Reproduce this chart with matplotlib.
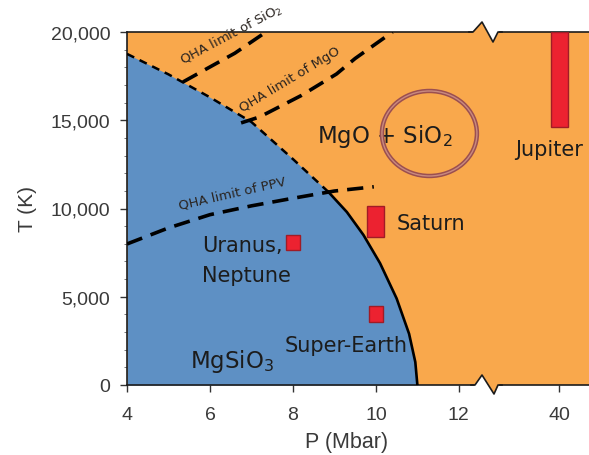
import matplotlib
matplotlib.use('Agg')
import matplotlib.pyplot as plt
from matplotlib.patches import Ellipse, Polygon
from matplotlib.lines import Line2D

plt.rcParams['font.family'] = ['DejaVu Sans']

orange = '#f9a84c'
blue = '#5e90c4'
red = '#ec2230'
ink = '#1c1c1c'

# MgSiO3 -> MgO + SiO2 boundary, P in Mbar, T in K
bound_p = [4.0, 5.0, 6.0, 7.0, 8.0, 8.85, 9.3, 9.7, 10.1, 10.5, 10.8, 10.95, 11.0]
bound_t = [18760, 17600, 16300, 14900, 12800, 10950, 9800, 8500, 6900, 4900, 2900, 1300, 0]
n_dash = 6  # boundary is dashed above the PPV limit

# QHA validity limits
ppv_p = [4.0, 5.0, 6.0, 7.0, 8.0, 9.0, 9.95]
ppv_t = [7990, 8900, 9650, 10150, 10580, 10990, 11230]
mgo_p = [6.75, 7.2, 8.2, 9.05, 9.5, 10.4]
mgo_t = [14850, 15190, 16400, 17620, 18500, 20000]
sio2_p = [5.35, 6.0, 6.6, 7.35]
sio2_t = [17170, 18020, 18800, 20000]

# planetary interiors
planet_p = [8.0, 10.0, 10.0, 40.0]
planet_w = [0.34, 0.34, 0.41, 0.41]
planet_tlo = [7650, 3570, 8400, 14620]
planet_thi = [8500, 4480, 10150, 20000]

xticks_left = [4, 6, 8, 10, 12]
xticks_right = [40]
yticks = [0, 5000, 10000, 15000, 20000]
ylabels = ['0', '5,000', '10,000', '15,000', '20,000']

W, H = 589, 456
fig = plt.figure(figsize=(W / 100, H / 100), dpi=100)
ax1 = fig.add_axes([127 / W, 70 / H, 358 / W, 353 / H])
ax2 = fig.add_axes([485 / W, 70 / H, 104 / W, 353 / H], sharey=ax1)

for ax in (ax1, ax2):
    ax.set_facecolor(orange)
    for s in ax.spines.values():
        s.set_color(ink)
        s.set_linewidth(1.2)
    ax.spines['right'].set_visible(False)
    ax.tick_params(direction='out', length=5, width=1, color='#333333',
                   labelsize=14, labelcolor='#3a3a3a', pad=10)

ax1.set_xlim(4, 12.63)
ax2.set_xlim(38.22, 40.72)
ax1.set_ylim(0, 20000)
ax1.set_xticks(xticks_left)
ax1.set_xticklabels([str(v) for v in xticks_left], fontfamily='Liberation Sans')
ax2.set_xticks(xticks_right)
ax2.set_xticklabels([str(v) for v in xticks_right], fontfamily='Liberation Sans')
ax1.set_yticks(yticks)
ax1.set_yticklabels(ylabels, fontfamily='Liberation Sans')
ax1.set_yticks(range(0, 20001, 1000), minor=True)
ax1.tick_params(axis='y', which='major', pad=7)
ax1.tick_params(axis='y', which='minor', direction='out', length=2.5, width=0.7, color='#777777')
ax1.tick_params(axis='x', which='minor', bottom=False)

ax2.spines['left'].set_visible(False)
ax2.tick_params(axis='y', which='both', left=False, labelleft=False)
ax2.tick_params(axis='x', which='minor', bottom=False)

# MgSiO3 stability field
ax1.fill_between(bound_p, bound_t, 0, color=blue, lw=0, zorder=1)
ax1.plot(bound_p[:n_dash], bound_t[:n_dash], color='black', lw=1.8,
         dashes=(3.2, 2.4), zorder=3)
ax1.plot(bound_p[n_dash - 1:], bound_t[n_dash - 1:], color='black', lw=1.9, zorder=3)

qha = dict(color='black', lw=2.6, dashes=(4.5, 2.5), zorder=3, solid_capstyle='butt')
ax1.plot(ppv_p, ppv_t, **qha)
ax1.plot(mgo_p, mgo_t, **qha)
ax1.plot(sio2_p, sio2_t, **qha)

qlab = dict(fontsize=9.5, color='#2a2420', ha='center', va='center', rotation_mode='anchor')
ax1.text(6.55, 10880, 'QHA limit of PPV', rotation=13, **qlab)
ax1.text(7.93, 17340, 'QHA limit of MgO', rotation=31, **qlab)
ax1.text(6.51, 19890, 'QHA limit of SiO$_2$', rotation=28, clip_on=False, **qlab)

for p, w, lo, hi in zip(planet_p, planet_w, planet_tlo, planet_thi):
    ax = ax1 if p < 20 else ax2
    ax.bar(p, hi - lo, bottom=lo, width=w, color=red, edgecolor='#a01c26',
           lw=1, zorder=4)

lab = dict(color=ink, ha='left', va='baseline', zorder=5)
ax1.text(8.58, 13770, 'MgO + SiO$_2$', fontsize=16.5, **lab)
ax1.text(10.51, 8840, 'Saturn', fontsize=15, **lab)
ax1.text(5.81, 7590, 'Uranus,', fontsize=15, **lab)
ax1.text(5.81, 5890, 'Neptune', fontsize=15, **lab)
ax1.text(7.81, 1930, 'Super-Earth', fontsize=15, **lab)
ax1.text(5.52, 1020, 'MgSiO$_3$', fontsize=16.5, **lab)
ax2.text(38.94, 13030, 'Jupiter', fontsize=15, clip_on=False, **lab)

ax1.add_patch(Ellipse((11.29, 14250), 2.29, 4816, fill=False,
                      edgecolor='#9b4f50', lw=3.2, zorder=5))
ax1.add_patch(Ellipse((11.29, 14250), 2.29, 4816, fill=False,
                      edgecolor='#c98a80', lw=1.0, zorder=5))

ax1.set_ylabel('T (K)', fontsize=15, color='#3a3a3a', fontfamily='Liberation Sans', labelpad=10)
fig.text(347 / W, 1 - 443 / H, 'P (Mbar)', fontsize=15.5, color='#3a3a3a',
         fontfamily='Liberation Sans', ha='center', va='center')


# zig-zag axis break on the top and bottom spines
def fp(pts):
    return [(x / W, 1 - y / H) for x, y in pts]


tf = fig.transFigure
bot = [(475, 386), (482, 376), (494, 395), (498, 386)]
top = [(473, 33), (482, 23), (493, 43), (498, 33)]
fig.add_artist(Polygon(fp([(473, 388), (475, 386), (482, 376), (488.3, 386), (489, 388)]),
                       closed=True, color='white', lw=0, transform=tf, zorder=6))
fig.add_artist(Polygon(fp([(487.5, 384.8), (494, 395), (499.5, 384.8)]),
                       closed=True, color=orange, lw=0, transform=tf, zorder=6))
fig.add_artist(Polygon(fp([(472, 34.5), (473, 33), (482, 23), (487.5, 33), (488, 34.5)]),
                       closed=True, color=orange, lw=0, transform=tf, zorder=6))
fig.add_artist(Polygon(fp([(486, 31.5), (493, 43), (499.5, 31.5)]),
                       closed=True, color='white', lw=0, transform=tf, zorder=6))
for pts in (bot, top):
    xs, ys = zip(*fp([(pts[0][0] - 4, pts[0][1])] + pts + [(pts[-1][0] + 4, pts[-1][1])]))
    fig.add_artist(Line2D(xs, ys, color=ink, lw=1.2, transform=tf, zorder=7))

fig.savefig('out.png', dpi=100)
